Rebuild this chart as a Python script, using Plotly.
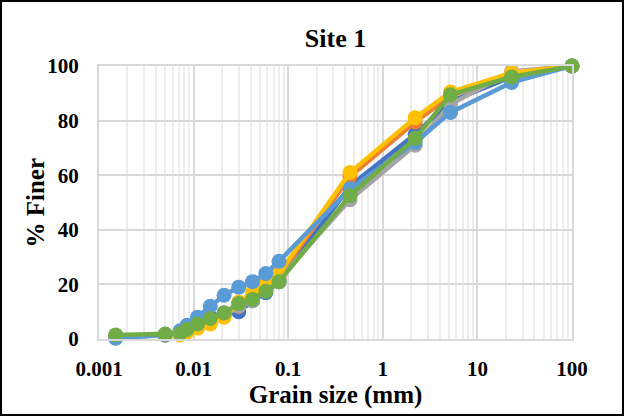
import plotly.graph_objects as go

grain_size = [0.0015, 0.005, 0.0072, 0.0085, 0.011, 0.015, 0.021, 0.03, 0.042, 0.058, 0.08, 0.45, 2.2, 5.2, 23, 100]

s1 = [0.5, 1.5, 2.5, 4, 6, 8, 9.5, 10, 14, 17, 21, 56, 75, 87, 96, 100]
s2 = [0.8, 1.5, 2, 3, 4.5, 6, 8.5, 12, 15, 19, 23, 59.5, 79.5, 89, 97.5, 100]
s3 = [0.8, 1.5, 2, 3, 4.5, 6.5, 8.5, 12, 14, 18, 22, 51, 71, 86, 98, 100]
s4 = [1, 1.5, 1.5, 2.5, 4, 5.5, 8, 13.5, 17, 20, 24, 61, 81, 90.5, 97.5, 100]
s5 = [0.3, 1.5, 3, 5, 8, 12, 16, 19, 21, 24, 28.5, 55, 72, 83, 94, 100]
s6 = [1.5, 1.8, 2, 3.5, 5.5, 7.5, 9.5, 13, 14.5, 17.5, 21, 52.5, 73.5, 89.5, 96, 100]

series = [s1, s2, s3, s4, s5, s6]
colors = ["#4472C4", "#ED7D31", "#A5A5A5", "#FFC000", "#5B9BD5", "#70AD47"]

fig = go.Figure()
for vals, c in zip(series, colors):
    fig.add_trace(go.Scatter(
        x=grain_size, y=vals, mode="lines+markers",
        line=dict(color=c, width=4.5),
        marker=dict(color=c, size=15),
        showlegend=False, cliponaxis=False,
    ))

FONT = "Liberation Serif"
W, H = 624, 416
L, R, T, B = 99, 52, 66, 77
PW, PH = W - L - R, H - T - B

fig.update_layout(
    width=W, height=H,
    margin=dict(l=L, r=R, t=T, b=B),
    paper_bgcolor="white", plot_bgcolor="white",
    font=dict(family=FONT, color="black"),
    title=dict(text="<b>Site 1</b>", x=0.5, xref="paper", xanchor="center",
               y=1 - 38 / H, yanchor="middle", font=dict(size=26, family=FONT)),
    xaxis=dict(
        type="log", range=[-3, 2],
        tickvals=[0.001, 0.01, 0.1, 1, 10, 100],
        ticktext=["<b>0.001</b>", "<b>0.01</b>", "<b>0.1</b>", "<b>1</b>", "<b>10</b>", "<b>100</b>"],
        tickfont=dict(size=21), ticks="", ticklabelstandoff=10,
        showgrid=True, gridcolor="#D9D9D9", gridwidth=2,
        minor=dict(showgrid=True, gridcolor="#EDEDED", gridwidth=2, dtick="D1"),
        showline=True, linecolor="#D9D9D9", linewidth=2, mirror=True,
        zeroline=False,
        title=dict(text="<b>Grain size (mm)</b>", font=dict(size=25), standoff=2),
    ),
    yaxis=dict(
        range=[0, 100],
        tickvals=[0, 20, 40, 60, 80, 100],
        ticktext=["<b>0</b>", "<b>20</b>", "<b>40</b>", "<b>60</b>", "<b>80</b>", "<b>100</b>"],
        tickfont=dict(size=21), ticks="", ticklabelstandoff=14,
        showgrid=True, gridcolor="#D9D9D9", gridwidth=2,
        showline=True, linecolor="#D9D9D9", linewidth=2, mirror=True,
        zeroline=False,
    ),
    annotations=[dict(
        text="<b>% Finer</b>", textangle=-90, showarrow=False,
        xref="paper", yref="paper",
        x=-(L - 35) / PW, y=0.5, xanchor="center", yanchor="middle",
        font=dict(size=25, family=FONT),
    )],
    shapes=[dict(
        type="rect", xref="paper", yref="paper",
        x0=-(L - 1) / PW, x1=1 + (R - 1) / PW,
        y0=-(B - 1) / PH, y1=1 + (T - 1) / PH,
        line=dict(color="black", width=2), fillcolor="rgba(0,0,0,0)", layer="above",
    )],
)

fig.write_html("out.html")
